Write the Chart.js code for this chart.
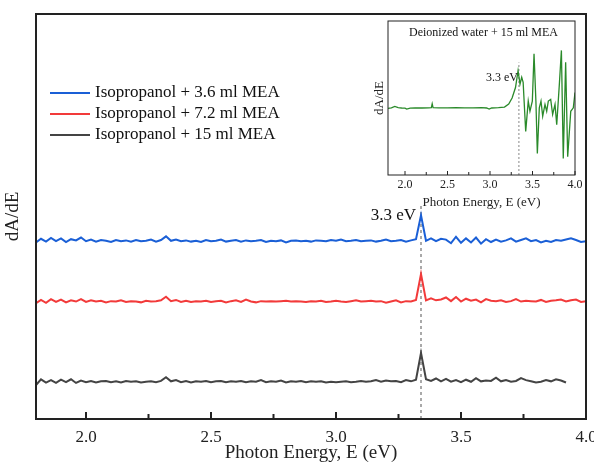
<!DOCTYPE html>
<html>
<head>
<meta charset="utf-8">
<script src="https://cdn.jsdelivr.net/npm/chart.js@4"></script>
<style>
  body { margin: 0; background: #fff; }
  #wrap { position: relative; width: 594px; height: 464px; }
  #main { position: absolute; left: 0; top: 0; }
  #inset { position: absolute; left: 360px; top: 10px; }
</style>
</head>
<body>
<div id="wrap">
  <canvas id="main" width="594" height="464"></canvas>
  <canvas id="inset" width="225" height="200"></canvas>
</div>
<script>
// ---- data ----
const energy = [
  1.80, 1.82, 1.84, 1.86, 1.88, 1.90, 1.92, 1.94, 1.96, 1.98,
  2.00, 2.02, 2.04, 2.06, 2.08, 2.10, 2.12, 2.14, 2.16, 2.18,
  2.20, 2.22, 2.24, 2.26, 2.28, 2.30, 2.32, 2.34, 2.36, 2.38,
  2.40, 2.42, 2.44, 2.46, 2.48, 2.50, 2.52, 2.54, 2.56, 2.58,
  2.60, 2.62, 2.64, 2.66, 2.68, 2.70, 2.72, 2.74, 2.76, 2.78,
  2.80, 2.82, 2.84, 2.86, 2.88, 2.90, 2.92, 2.94, 2.96, 2.98,
  3.00, 3.02, 3.04, 3.06, 3.08, 3.10, 3.12, 3.14, 3.16, 3.18,
  3.20, 3.22, 3.24, 3.26, 3.28, 3.30, 3.32, 3.34, 3.36, 3.38,
  3.40, 3.42, 3.44, 3.46, 3.48, 3.50, 3.52, 3.54, 3.56, 3.58,
  3.60, 3.62, 3.64, 3.66, 3.68, 3.70, 3.72, 3.74, 3.76, 3.78,
  3.80, 3.82, 3.84, 3.86, 3.88, 3.90, 3.92, 3.94, 3.96, 3.98,
  4.00
];

const mea36 = [
  43.6, 44.5, 43.8, 44.7, 43.9, 44.6, 43.7, 44.4, 44.1, 44.8,
  43.9, 44.3, 43.8, 44.2, 44.0, 43.7, 44.2, 43.9, 44.1, 43.8,
  44.2, 43.9, 44.0, 44.3, 43.8, 44.2, 45.1, 44.0, 44.3, 43.9,
  44.1, 43.8, 44.0, 43.7, 44.2, 43.9, 44.0, 44.3, 43.8, 44.0,
  44.2, 43.8, 44.1, 43.9, 44.0, 44.2, 43.7, 44.0, 43.9, 44.1,
  43.6, 44.0, 44.1, 43.9, 44.0, 43.8, 44.1, 44.0, 43.9, 44.2,
  44.0, 44.3, 43.9, 44.0, 44.2, 43.9, 44.0, 44.1, 43.8, 44.0,
  44.3, 43.9, 44.0, 44.2, 43.8, 44.1, 44.4, 50.3, 44.0, 44.6,
  43.9, 44.5, 44.3, 43.4, 45.0, 43.5, 44.6, 43.6, 44.8, 43.3,
  44.4, 43.7, 44.3, 43.8, 44.1, 44.6, 43.8, 44.2, 44.6, 43.9,
  44.2, 43.6, 44.0, 43.7, 44.2, 44.0, 44.3, 44.6, 44.2, 43.7,
  43.9
];

const mea72 = [
  28.6, 29.4, 28.7, 29.6, 28.9, 29.5, 28.8, 29.3, 29.0, 29.6,
  28.9, 29.3, 29.0, 29.2, 28.8, 29.1, 29.0, 29.3, 28.9, 29.1,
  29.0, 28.8, 29.2, 29.0, 29.1, 29.3, 30.2, 29.1, 29.4, 28.9,
  29.2, 28.9, 29.1, 29.0, 29.2, 28.9, 29.1, 29.2, 28.8, 29.1,
  29.3, 28.9, 29.5, 29.0, 28.8, 29.1, 29.0, 29.1, 29.0, 29.1,
  29.2, 29.0, 29.1, 29.0, 28.9, 29.1, 29.0, 29.2, 28.9, 29.0,
  29.2, 29.0, 28.9, 29.1, 29.3, 29.0, 29.1, 29.2, 29.0, 29.1,
  28.7, 29.0, 29.3, 28.8, 29.1, 29.0, 29.4, 35.8, 29.3, 29.8,
  29.3, 29.5, 30.0, 29.1, 30.1, 29.0, 29.7, 29.2, 29.5, 28.8,
  29.6, 29.2, 29.1, 29.3, 28.9, 29.1, 29.6, 29.0, 29.2, 29.1,
  29.0, 29.4, 28.9, 29.2, 29.3, 29.5, 29.0, 29.3, 29.5, 28.9,
  29.1
];

// this scan stops at 3.92 eV
const mea15 = [
  8.4, 9.8, 9.0, 9.6, 8.9, 9.7, 9.1, 9.8, 8.9, 9.5,
  9.1, 9.4, 9.0, 9.3, 9.4, 9.1, 9.3, 9.0, 9.4, 9.2,
  9.3, 9.0, 9.2, 9.3, 9.1, 9.4, 10.3, 9.3, 9.6, 9.1,
  9.4, 9.0, 9.3, 9.2, 9.4, 9.1, 9.3, 9.4, 9.1, 9.3,
  9.2, 9.4, 9.1, 9.3, 9.2, 9.6, 9.1, 9.3, 9.2, 9.5,
  9.0, 9.3, 9.2, 9.4, 9.1, 9.3, 9.2, 9.3, 9.0, 9.2,
  9.1, 9.2, 9.3, 9.1, 9.2, 9.4, 9.2, 9.3, 9.6, 9.2,
  9.5, 9.3, 9.4, 9.1, 9.6, 9.3, 9.7, 16.3, 9.8, 9.4,
  10.0, 9.3, 9.9, 9.2, 9.6, 9.1, 9.7, 9.2, 10.1, 9.3,
  9.5, 9.4, 10.2, 9.3, 9.6, 9.2, 9.4, 10.1, 9.6, 9.3,
  9.0, 9.2, 9.6, 9.3, 9.8, 9.5, 9.0
];

// inset: deionized water + 15 ml MEA
const insetEnergy = [
  1.80, 1.84, 1.88, 1.92, 1.96, 2.00, 2.02, 2.06, 2.12, 2.20,
  2.28, 2.31, 2.32, 2.33, 2.40, 2.50, 2.60, 2.70, 2.80, 2.90,
  2.96, 2.99, 3.02, 3.10, 3.17, 3.22, 3.26, 3.30, 3.33, 3.353,
  3.373, 3.39, 3.42, 3.45, 3.47, 3.498, 3.518, 3.54, 3.557, 3.58,
  3.60, 3.62, 3.647, 3.667, 3.686, 3.714, 3.737, 3.765, 3.785, 3.816,
  3.84, 3.862, 3.89, 3.914, 3.95, 3.98, 4.00
];
const insetSignal = [
  43.2, 43.6, 44.5, 43.8, 43.5, 43.4, 42.8, 43.4, 43.6, 43.5,
  43.6, 43.7, 46.3, 43.8, 43.6, 43.6, 43.7, 43.6, 43.6, 43.7,
  43.5, 42.8, 43.5, 43.7, 44.1, 46.0, 50.0, 56.8, 67.8, 59.0,
  63.4, 60.1, 28.3, 48.0, 41.4, 48.0, 78.7, 48.0, 14.0, 43.6,
  48.0, 38.2, 45.8, 41.4, 48.0, 49.1, 39.3, 45.8, 32.7, 59.0,
  80.9, 10.7, 73.2, 11.8, 41.4, 43.6, 53.5
];

const seriesNames = ['Isopropanol + 3.6 ml MEA', 'Isopropanol + 7.2 ml MEA', 'Isopropanol + 15 ml MEA'];
const seriesColors = ['#1a5fd6', '#f23a3a', '#444444'];
const xTickLabels = [2.0, 2.5, 3.0, 3.5, 4.0];
const xMinorTicks = [2.25, 2.75, 3.25, 3.75];
const peakEnergy = 3.34;

const SERIF = "'Liberation Serif', 'Times New Roman', serif";

function pts(xs, ys) {
  return ys.map((y, i) => ({ x: xs[i], y: y }));
}

// box + inward ticks, shared by both charts
function frame(tickLen, minorLen, width) {
  return {
    id: 'frame',
    afterDatasetsDraw(chart) {
      const { ctx, chartArea: a, scales: { x } } = chart;
      ctx.save();
      ctx.strokeStyle = '#222';
      ctx.lineWidth = width;
      ctx.strokeRect(a.left, a.top, a.right - a.left, a.bottom - a.top);
      ctx.beginPath();
      xTickLabels.forEach(v => {
        const px = x.getPixelForValue(v);
        ctx.moveTo(px, a.bottom);
        ctx.lineTo(px, a.bottom - tickLen);
      });
      xMinorTicks.forEach(v => {
        const px = x.getPixelForValue(v);
        ctx.moveTo(px, a.bottom);
        ctx.lineTo(px, a.bottom - minorLen);
      });
      ctx.stroke();
      ctx.restore();
    }
  };
}

// legend + "3.3 eV" note on the main plot
const mainNotes = {
  id: 'mainNotes',
  afterDraw(chart) {
    const { ctx, scales: { x, y } } = chart;
    ctx.save();
    ctx.font = '17px ' + SERIF;
    ctx.fillStyle = '#111';
    ctx.textBaseline = 'middle';
    seriesNames.forEach((name, i) => {
      const ly = 93 + i * 21;
      ctx.strokeStyle = seriesColors[i];
      ctx.lineWidth = 2;
      ctx.beginPath();
      ctx.moveTo(50, ly);
      ctx.lineTo(90, ly);
      ctx.stroke();
      ctx.fillText(name, 95, ly);
    });
    ctx.textAlign = 'right';
    ctx.fillText('3.3 eV', x.getPixelForValue(peakEnergy) - 5, y.getPixelForValue(mea36[77]));
    ctx.restore();
  }
};

const insetNotes = {
  id: 'insetNotes',
  afterDraw(chart) {
    const { ctx, chartArea: a, scales: { x, y } } = chart;
    ctx.save();
    ctx.fillStyle = '#111';
    ctx.font = '12px ' + SERIF;
    ctx.textBaseline = 'middle';
    ctx.textAlign = 'center';
    ctx.fillText('Deionized water + 15 ml MEA', (a.left + a.right) / 2 + 2, a.top + 12);
    ctx.textAlign = 'right';
    ctx.fillText('3.3 eV', x.getPixelForValue(peakEnergy) - 1, y.getPixelForValue(63));
    ctx.restore();
  }
};

// let the last tick label hang past the plot edge, as in the figure
function noOverhang(s) {
  s.paddingLeft = 0;
  s.paddingRight = 0;
}

new Chart(document.getElementById('main'), {
  type: 'line',
  data: {
    datasets: [
      { label: seriesNames[0], data: pts(energy, mea36), borderColor: seriesColors[0], borderWidth: 2, pointRadius: 0, tension: 0 },
      { label: seriesNames[1], data: pts(energy, mea72), borderColor: seriesColors[1], borderWidth: 2, pointRadius: 0, tension: 0 },
      { label: seriesNames[2], data: pts(energy, mea15), borderColor: seriesColors[2], borderWidth: 2, pointRadius: 0, tension: 0 },
      { label: 'marker', data: [{ x: peakEnergy, y: 0 }, { x: peakEnergy, y: 53 }],
        borderColor: '#555', borderWidth: 1, borderDash: [3, 3], pointRadius: 0 }
    ]
  },
  options: {
    responsive: false,
    animation: false,
    layout: { padding: { top: 14, right: 8, left: 0, bottom: 0 } },
    plugins: { legend: { display: false }, tooltip: { enabled: false } },
    scales: {
      x: {
        type: 'linear', min: 1.8, max: 4.0,
        grid: { display: false, drawTicks: false },
        border: { display: false },
        afterBuildTicks: s => { s.ticks = xTickLabels.map(v => ({ value: v })); },
        afterFit: s => { s.height = 45; noOverhang(s); },
        ticks: { color: '#222', font: { family: SERIF, size: 17 }, padding: 8, maxRotation: 0, autoSkip: false,
                 callback: v => v.toFixed(1) },
        title: { display: true, text: 'Photon Energy, E (eV)', color: '#222', font: { family: SERIF, size: 19 }, padding: { top: 0, bottom: 0 } }
      },
      y: {
        min: 0, max: 100,
        grid: { display: false, drawTicks: false },
        border: { display: false },
        ticks: { display: false },
        afterFit: s => { s.width = 36; },
        title: { display: true, text: 'dA/dE', color: '#222', font: { family: SERIF, size: 19 }, padding: { top: 2, bottom: 0 } }
      }
    }
  },
  plugins: [frame(7, 5, 2), mainNotes]
});

new Chart(document.getElementById('inset'), {
  type: 'line',
  data: {
    datasets: [
      { label: 'Deionized water + 15 ml MEA', data: pts(insetEnergy, insetSignal), borderColor: '#2a8a2a', borderWidth: 1.3, pointRadius: 0, tension: 0 },
      { label: 'marker', data: [{ x: peakEnergy, y: 0 }, { x: peakEnergy, y: 73 }],
        borderColor: '#888', borderWidth: 1, borderDash: [2, 2], pointRadius: 0 }
    ]
  },
  options: {
    responsive: false,
    animation: false,
    layout: { padding: { top: 11, right: 10, left: 12, bottom: 0 } },
    plugins: { legend: { display: false }, tooltip: { enabled: false } },
    scales: {
      x: {
        type: 'linear', min: 1.8, max: 4.0,
        grid: { display: false, drawTicks: false },
        border: { display: false },
        afterBuildTicks: s => { s.ticks = xTickLabels.map(v => ({ value: v })); },
        afterFit: s => { s.height = 35; noOverhang(s); },
        ticks: { color: '#222', font: { family: SERIF, size: 12 }, padding: 3, maxRotation: 0, autoSkip: false,
                 callback: v => v.toFixed(1) },
        title: { display: true, text: 'Photon Energy, E (eV)', color: '#222', font: { family: SERIF, size: 13 }, padding: { top: 0, bottom: 0 } }
      },
      y: {
        min: 0, max: 100,
        grid: { display: false, drawTicks: false },
        border: { display: false },
        ticks: { display: false },
        afterFit: s => { s.width = 16; },
        title: { display: true, text: 'dA/dE', color: '#222', font: { family: SERIF, size: 13 }, padding: 0 }
      }
    }
  },
  plugins: [frame(4, 3, 1), insetNotes]
});
</script>
</body>
</html>
